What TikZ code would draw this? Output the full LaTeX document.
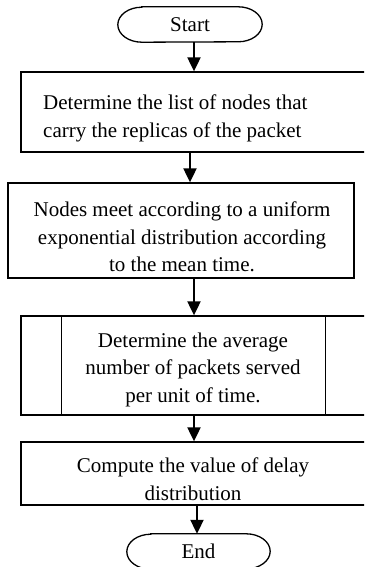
\documentclass[tikz,border=0pt]{standalone}
\usepackage{fontspec}
\setmainfont{Liberation Serif}
\usetikzlibrary{arrows.meta,calc}
\begin{document}
\begin{tikzpicture}[x=1pt,y=-1pt,
  box/.style={draw, line width=1.3pt, rectangle, inner sep=0pt, minimum width=346pt},
  term/.style={rectangle, inner sep=0pt, minimum width=144pt, minimum height=35pt,
    font=\fontsize{21}{27.5}\selectfont},
  termline/.style={line width=1.3pt},
  txt/.style={inner sep=0pt, font=\fontsize{21}{27.5}\selectfont},
  arr/.style={line width=2pt, -{Triangle[length=14pt,width=13pt]}},
]
\useasboundingbox (0,0) rectangle (364,567);
\clip (0,0) rectangle (364,567);

% terminals (stadium outline drawn with elliptic ends)
\node[term] (start) at (190,24.5) {Start};
\node[term, minimum width=143pt] (end) at (198.5,551.5) {End};
\foreach \t in {start,end}{
  \draw[termline] ([xshift=24pt]\t.north west) -- ([xshift=-24pt]\t.north east)
    arc[start angle=90, end angle=-90, x radius=24pt, y radius=17.5pt]
    -- ([xshift=24pt]\t.south west)
    arc[start angle=270, end angle=90, x radius=24pt, y radius=17.5pt] -- cycle;
}

% process boxes
\node[box, minimum height=80pt] (b1) at (194,112) {};
\node[box, minimum height=95pt] (b2) at (181,230.5) {};
\node[box, minimum height=99pt] (b3) at (194,365.5) {};
\node[box, minimum height=63pt] (b4) at (194,473.5) {};
% predefined-process side bars
\draw[line width=1.3pt] ([xshift=41pt]b3.north west) -- ([xshift=41pt]b3.south west);
\draw[line width=1.3pt] ([xshift=-42pt]b3.north east) -- ([xshift=-42pt]b3.south east);

% box texts (base anchor = baseline of the last line)
\node[txt, align=left, anchor=base west] (t1) at (43,137)
  {Determine the list of nodes that\\carry the replicas of the packet};
\node[txt, align=center, anchor=base] (t2) at (182,271.5)
  {Nodes meet according to a uniform\\exponential distribution according\\to the mean time.};
\node[txt, align=center, anchor=base] (t3) at (193,402)
  {Determine the average\\number of packets served\\per unit of time.};
\node[txt, align=center, anchor=base] (t4) at (193,500)
  {Compute the value of delay\\distribution};

% flow arrows
\draw[arr] (start.south -| b1.north) -- (b1.north);
\draw[arr] ([xshift=-4pt]b1.south) -- ([xshift=-4pt]b1.south |- b2.north);
\draw[arr] (b2.south -| b3.north) -- (b3.north);
\draw[arr] (b3.south) -- (b4.north);
\draw[arr] ([xshift=3pt]b4.south) -- ([xshift=3pt]b4.south |- end.north);
\end{tikzpicture}
\end{document}
